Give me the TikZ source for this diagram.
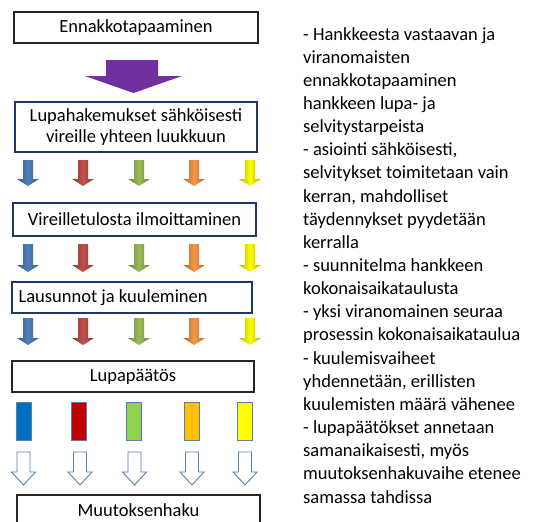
\documentclass[tikz,border=0pt]{standalone}
\usepackage{fontspec}
\setmainfont{Carlito}
\definecolor{navyb}{HTML}{1F3864}
\definecolor{darkb}{HTML}{262626}
\definecolor{purp}{HTML}{7030A0}
\definecolor{aBlue}{HTML}{4F81BD}
\definecolor{aRed}{HTML}{C0504D}
\definecolor{aGreen}{HTML}{9BBB59}
\definecolor{aOrange}{HTML}{F79646}
\definecolor{aYellow}{HTML}{FFFF00}
\definecolor{rBlue}{HTML}{0070C0}
\definecolor{rRed}{HTML}{C00000}
\definecolor{rGreen}{HTML}{92D050}
\definecolor{rOrange}{HTML}{FFC000}
\definecolor{rYellow}{HTML}{FFFF00}
\definecolor{edgeb}{HTML}{5A7FA8}
\newcommand{\colarr}[4]{%
  \shade[left color=#4!70!black, right color=#4!70!black, middle color=#4]
    (#1-5,#2) -- (#1+5,#2) -- (#1+5,#3-7) -- (#1+11,#3-7) -- (#1,#3)
    -- (#1-11,#3-7) -- (#1-5,#3-7) -- cycle;}
\newcommand{\hollowarr}[1]{%
  \draw[edgeb, line width=0.9pt, fill=white]
    (#1-6.5,452) -- (#1+6.5,452) -- (#1+6.5,472) -- (#1+12,472) -- (#1,485)
    -- (#1-12,472) -- (#1-6.5,472) -- cycle;}
\begin{document}
\begin{tikzpicture}[x=1pt,y=-1pt,
  every node/.style={font=\fontsize{18.5}{20.5}\selectfont},
  stepbox/.style={draw, line width=1.2pt, inner sep=0pt, align=center}]
\useasboundingbox[fill=white] (0,0) rectangle (533,522);

% boxes
\node[stepbox, draw=darkb, minimum width=244pt, minimum height=31pt] (b1) at (136,27.5) {Ennakkotapaaminen};
\node[stepbox, draw=navyb, minimum width=242pt, minimum height=50pt] (b2) at (136,127)
  {Lupahakemukset sähköisesti\\vireille yhteen luukkuun};
\node[stepbox, draw=navyb, minimum width=243pt, minimum height=33pt] (b3) at (134.5,219.5) {Vireilletulosta ilmoittaminen};
\node[stepbox, draw=navyb, minimum width=240pt, minimum height=31pt] (b4) at (132,297.5) {};
\node[anchor=west, inner sep=0pt] (t4) at ([xshift=7pt]b4.west) {Lausunnot ja kuuleminen};
\node[stepbox, draw=darkb, minimum width=242pt, minimum height=31pt] (b5) at (133,376.5) {Lupapäätös};
\node[stepbox, draw=darkb, minimum width=243pt, minimum height=30pt] (b6) at (138.5,510) {Muutoksenhaku};

% purple arrow
\fill[purp] (106,60) -- (158,60) -- (158,76) -- (182,76) -- (133.5,93) -- (85,76) -- (106,76) -- cycle;

% coloured arrows
\foreach \yt/\yb in {160/186, 244/272, 318/345}{
  \foreach \x/\c in {28/aBlue, 83/aRed, 139/aGreen, 194/aOrange, 250/aYellow}{
    \colarr{\x}{\yt}{\yb}{\c}
  }
}

% coloured bars
\foreach \x/\c in {23.5/rBlue, 79/rRed, 134/rGreen, 191.5/rOrange, 245/rYellow}{
  \draw[edgeb, line width=0.9pt, fill=\c] (\x-7.5,402) rectangle (\x+7.5,440);
}

% hollow arrows
\foreach \x in {23.5, 80, 134.5, 192, 245}{
  \hollowarr{\x}
}

% notes
\foreach [count=\i] \t in {%
{- Hankkeesta vastaavan ja},
{viranomaisten},
{ennakkotapaaminen},
{hankkeen lupa- ja},
{selvitystarpeista},
{- asiointi sähköisesti,},
{selvitykset toimitetaan vain},
{kerran, mahdolliset},
{täydennykset pyydetään},
{kerralla},
{- suunnitelma hankkeen},
{kokonaisaikataulusta},
{- yksi viranomainen seuraa},
{prosessin kokonaisaikataulua},
{- kuulemisvaiheet},
{yhdennetään, erillisten},
{kuulemisten määrä vähenee},
{- lupapäätökset annetaan},
{samanaikaisesti, myös},
{muutoksenhakuvaihe etenee},
{samassa tahdissa}}{
  \node[anchor=base west, inner sep=0pt] (n\i) at (303,{40+23.15*(\i-1)}) {\t};
}
\end{tikzpicture}
\end{document}
